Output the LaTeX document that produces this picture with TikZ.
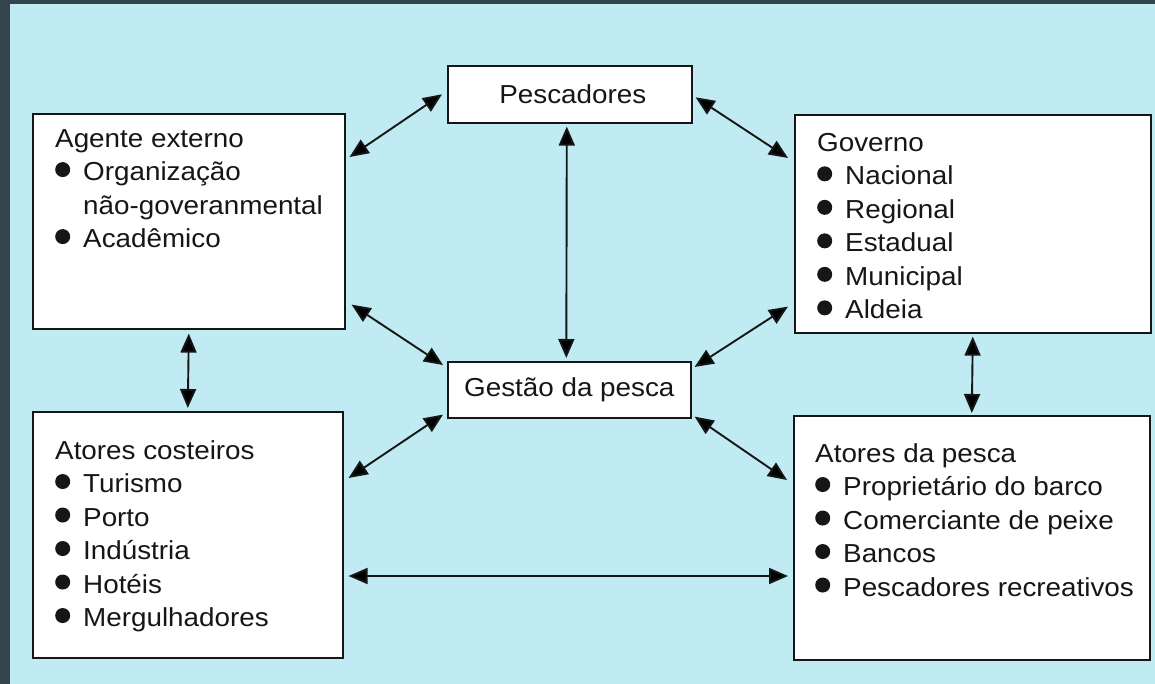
\documentclass[tikz,border=0pt]{standalone}
\usepackage{fontspec}
\setmainfont[FakeStretch=1.07]{Liberation Sans}
\usetikzlibrary{arrows.meta}
\definecolor{bg}{RGB}{193,235,242}
\definecolor{frame}{RGB}{52,68,76}
\definecolor{ink}{RGB}{22,22,22}
\newcommand\bul{\tikz[baseline=0pt]\fill[ink](7.5pt,11pt)circle(7.5pt);\hspace*{13pt}}
\newcommand\ind{\hspace*{28pt}}
\begin{document}
\begin{tikzpicture}[x=1pt,y=-1pt,
  box/.style={draw=ink, line width=1.6pt, fill=white, rectangle, inner sep=0pt, anchor=north west},
  lbl/.style={anchor=north west, inner sep=0pt, align=left, font=\fontsize{26}{33.5}\selectfont, text=ink},
  title/.style={font=\fontsize{26}{33.5}\selectfont, text=ink},
  arr/.style={{Triangle[length=19pt,width=16pt]}-{Triangle[length=19pt,width=16pt]}, line width=1.9pt, draw=ink}]
\useasboundingbox (0,0) rectangle (1155,684);
\fill[bg] (0,0) rectangle (1155,684);
\fill[frame] (0,0) rectangle (10,684);
\fill[frame] (0,0) rectangle (1155,4);

% boxes
\node[box, minimum width=312pt, minimum height=215pt] (agente) at (32,113) {};
\node[box, minimum width=244pt, minimum height=57pt, title] (pesc) at (447,65) {\hspace*{6pt}Pescadores};
\node[box, minimum width=243pt, minimum height=56pt, title] (gestao) at (447,361) {Gestão da pesca};
\node[box, minimum width=356pt, minimum height=218pt] (gov) at (794,114) {};
\node[box, minimum width=310pt, minimum height=246pt] (cost) at (32,411) {};
\node[box, minimum width=356pt, minimum height=244pt] (atp) at (793,415) {};

% labels
\node[lbl] (agenteT) at (55,129) {Agente externo\\\bul Organização\\\ind não-goveranmental\\\bul Acadêmico};
\node[lbl] (govT) at (817,133) {Governo\\\bul Nacional\\\bul Regional\\\bul Estadual\\\bul Municipal\\\bul Aldeia};
\node[lbl] (costT) at (55,440) {Atores costeiros\\\bul Turismo\\\bul Porto\\\bul Indústria\\\bul Hotéis\\\bul Mergulhadores};
\node[lbl] (atpT) at (815,443) {Atores da pesca\\\bul Proprietário do barco\\\bul Comerciante de peixe\\\bul Bancos\\\bul Pescadores recreativos};

% connectors
\draw[arr] ([xshift=-5pt]pesc.west) -- ([xshift=4pt,yshift=-44pt]agente.north east);
\draw[arr] ([xshift=3pt,yshift=-3pt]pesc.east) -- ([xshift=-6pt,yshift=-44pt]gov.north west);
\draw[arr] ([xshift=-3pt,yshift=-3pt]pesc.south) -- ([xshift=-3pt,yshift=3pt]gestao.north);
\draw[arr] ([xshift=6pt,yshift=25pt]agente.south east) -- ([xshift=-4pt,yshift=-4pt]gestao.north west);
\draw[arr] ([xshift=-6pt,yshift=27pt]gov.south west) -- ([xshift=3pt,yshift=-6pt]gestao.north east);
\draw[arr] ([xshift=-4pt,yshift=4pt]gestao.south west) -- ([xshift=5pt,yshift=-67pt]cost.north east);
\draw[arr] ([xshift=3pt,yshift=2pt]gestao.south east) -- ([xshift=-6pt,yshift=-65pt]atp.north west);
\draw[arr] ([xshift=5pt,yshift=-165pt]cost.north east) -- ([xshift=-5pt,yshift=-161pt]atp.north west);
\draw[arr] ([yshift=-4pt]agente.south) -- ([yshift=3pt]cost.north);
\draw[arr] ([yshift=-3pt]gov.south) -- ([yshift=2pt]atp.north);
\end{tikzpicture}
\end{document}
